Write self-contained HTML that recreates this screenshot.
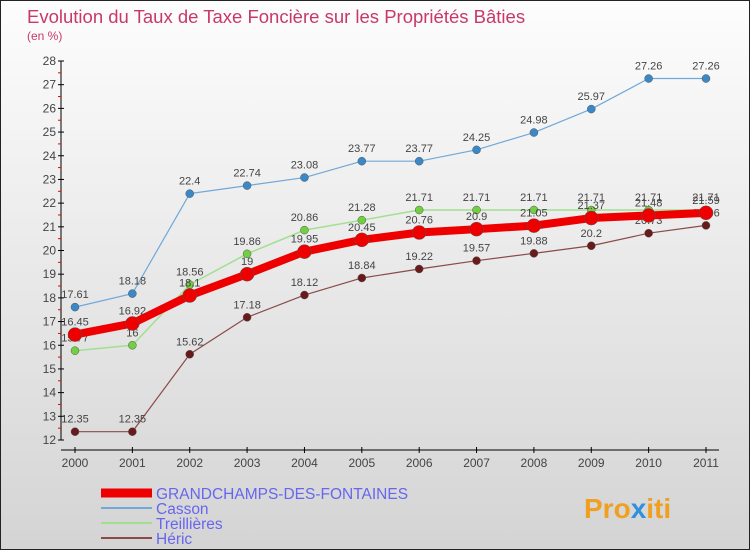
<!DOCTYPE html>
<html><head><meta charset="utf-8"><style>
body{margin:0}
#c{position:relative;width:748px;height:548px;border:1px solid #222;background:linear-gradient(#fdfdfd,#d4d4d4);overflow:hidden;font-family:"Liberation Sans",sans-serif}
</style></head><body>
<div id="c">
<svg id="s" width="748" height="548" xmlns="http://www.w3.org/2000/svg" style="position:absolute;left:0;top:0">
<text x="26" y="22" font-size="18.5" fill="#c8386a">Evolution du Taux de Taxe Foncière sur les Propriétés Bâties</text>
<text x="26" y="39" font-size="12" fill="#c8386a">(en %)</text>
<g id="axes"></g><g id="series"></g><g id="legend"></g>
<text x="583" y="517" font-size="28" font-weight="bold" fill="#f0a020">Pro<tspan fill="#3090e0">x</tspan>iti</text>
</svg></div>
<script>
const years=[2000,2001,2002,2003,2004,2005,2006,2007,2008,2009,2010,2011];
const yTicks=[12,13,14,15,16,17,18,19,20,21,22,23,24,25,26,27,28];
const grand=[16.45,16.92,18.1,19,19.95,20.45,20.76,20.9,21.05,21.37,21.48,21.59];
const casson=[17.61,18.18,22.4,22.74,23.08,23.77,23.77,24.25,24.98,25.97,27.26,27.26];
const treil=[15.77,16,18.56,19.86,20.86,21.28,21.71,21.71,21.71,21.71,21.71,21.71];
const heric=[12.35,12.35,15.62,17.18,18.12,18.84,19.22,19.57,19.88,20.2,20.73,21.06];
const NS="http://www.w3.org/2000/svg";
const X=i=>74+i*(631/11), Y=v=>439-(v-12)*(379/16);
function mk(t,a,p){const e=document.createElementNS(NS,t);for(const k in a)e.setAttribute(k,a[k]);p.appendChild(e);return e;}
const ax=document.getElementById('axes');
const yl=mk('line',{x1:60,x2:60,y1:Y(28),y2:Y(12),stroke:'#000'},ax);


const xl=mk('line',{x1:60,x2:718,y1:449,y2:449,stroke:'#000'},ax);


yTicks.forEach(v=>{
 mk('line',{x1:57,x2:63,y1:Y(v),y2:Y(v),stroke:'#000'},ax);
 if(v<28)mk('line',{x1:57,x2:60,y1:Y(v+0.5),y2:Y(v+0.5),stroke:'#e00'},ax);
 const t=mk('text',{x:55,y:Y(v)+4,'font-size':12,'text-anchor':'end',fill:'#444'},ax);t.textContent=v;
 
 
});
years.forEach((y,i)=>{
 mk('line',{x1:X(i),x2:X(i),y1:446,y2:452,stroke:'#000'},ax);
 const t=mk('text',{x:X(i),y:466,'font-size':12,'text-anchor':'middle',fill:'#444'},ax);t.textContent=y;
 
 
});
const sg=document.getElementById('series');
function draw(data,color,w,r,dot,name){
 const g=mk('g',{},sg);
 
 
 mk('polyline',{points:data.map((v,i)=>X(i)+','+Y(v)).join(' '),fill:'none',stroke:color,'stroke-width':w,'stroke-linejoin':'round'},g);
 data.forEach((v,i)=>{
  const c=mk('circle',{cx:X(i),cy:Y(v),r:r,fill:dot,stroke:'#555','stroke-width':0.5},g);
  
  
  const t=mk('text',{x:X(i),y:Y(v)-9,'font-size':11,'text-anchor':'middle',fill:'#444'},g);t.textContent=v;
 });
}
draw(heric,'#8a4a4a',1.2,4,'#6a1a1a','heric-series');
draw(treil,'#a0e090',1.5,4,'#70d040','treillieres-series');
draw(casson,'#70a8d8',1.2,4,'#3a88c8','casson-series');
draw(grand,'#ee0000',8,7,'#ee0000','grandchamps-series');
const lg=document.getElementById('legend');
[['GRANDCHAMPS-DES-FONTAINES','#ee0000',9],['Casson','#70a8d8',2],['Treillières','#a0e090',2],['Héric','#8a4a4a',2]].forEach((d,i)=>{
 const y=492+i*15;
 const g=mk('g',{},lg);
 
 
 mk('line',{x1:100,x2:151,y1:y,y2:y,stroke:d[1],'stroke-width':d[2]},g);
 const t=mk('text',{x:155,y:y+6,'font-size':15.5,fill:'#6666ee'},g);t.textContent=d[0];
});
</script>
</body></html>
